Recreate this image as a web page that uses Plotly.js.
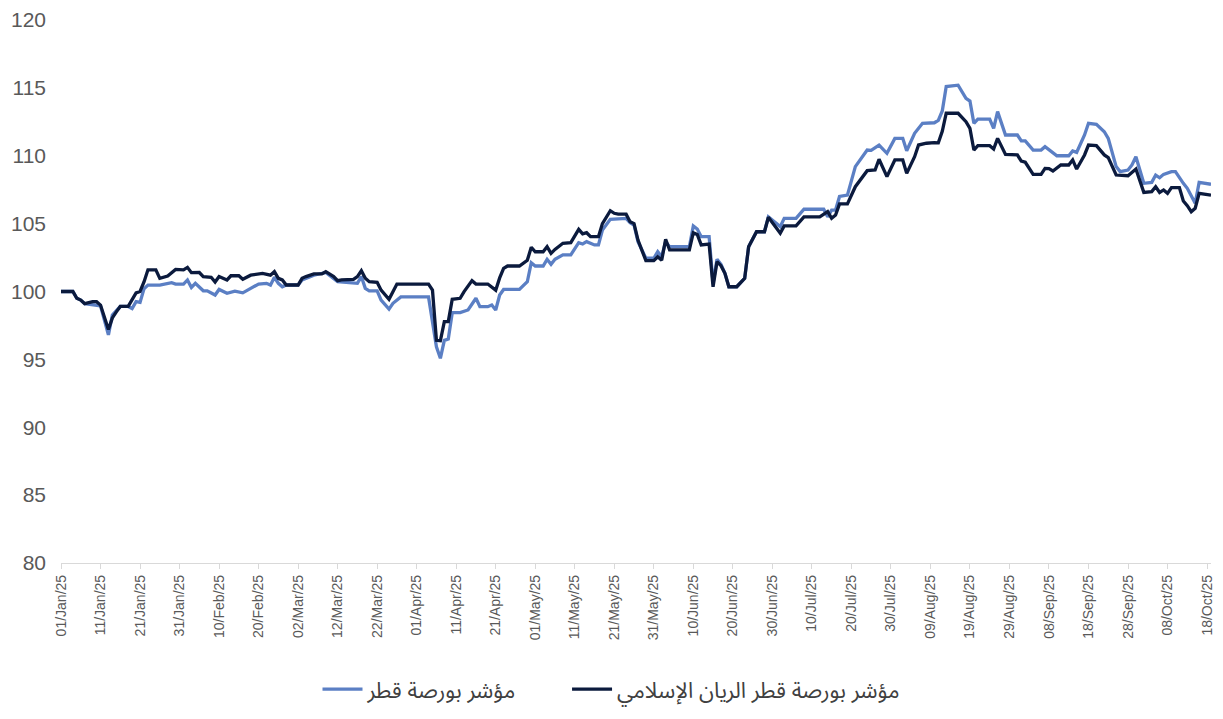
<!DOCTYPE html>
<html><head><meta charset="utf-8">
<script src="https://cdn.plot.ly/plotly-3.0.1.min.js"></script>
<style>html,body{margin:0;padding:0;background:#fff;}#chart{width:1223px;height:719px;}</style>
</head><body><div id="chart"></div>
<script>
var seriesNames = ["مؤشر بورصة قطر", "مؤشر بورصة قطر الريان الإسلامي"];

var qeDates = ["2025-01-01","2025-01-04","2025-01-05","2025-01-06","2025-01-07","2025-01-09","2025-01-11","2025-01-13","2025-01-14","2025-01-16","2025-01-18","2025-01-19","2025-01-20","2025-01-21","2025-01-22","2025-01-23","2025-01-26","2025-01-29","2025-01-30","2025-02-01","2025-02-02","2025-02-03","2025-02-04","2025-02-06","2025-02-07","2025-02-09","2025-02-10","2025-02-12","2025-02-14","2025-02-16","2025-02-18","2025-02-20","2025-02-22","2025-02-23","2025-02-24","2025-02-25","2025-02-26","2025-02-27","2025-03-02","2025-03-03","2025-03-06","2025-03-09","2025-03-12","2025-03-16","2025-03-17","2025-03-18","2025-03-19","2025-03-20","2025-03-22","2025-03-23","2025-03-25","2025-03-26","2025-03-28","2025-04-04","2025-04-06","2025-04-07","2025-04-08","2025-04-09","2025-04-10","2025-04-12","2025-04-14","2025-04-16","2025-04-17","2025-04-19","2025-04-20","2025-04-21","2025-04-22","2025-04-23","2025-04-27","2025-04-29","2025-04-30","2025-05-01","2025-05-03","2025-05-04","2025-05-05","2025-05-06","2025-05-08","2025-05-10","2025-05-12","2025-05-13","2025-05-14","2025-05-16","2025-05-17","2025-05-18","2025-05-20","2025-05-24","2025-05-25","2025-05-26","2025-05-27","2025-05-29","2025-05-31","2025-06-01","2025-06-02","2025-06-03","2025-06-04","2025-06-09","2025-06-10","2025-06-11","2025-06-12","2025-06-14","2025-06-15","2025-06-16","2025-06-17","2025-06-18","2025-06-19","2025-06-21","2025-06-23","2025-06-24","2025-06-26","2025-06-28","2025-06-29","2025-07-02","2025-07-03","2025-07-06","2025-07-08","2025-07-13","2025-07-14","2025-07-15","2025-07-16","2025-07-17","2025-07-19","2025-07-21","2025-07-24","2025-07-25","2025-07-27","2025-07-29","2025-07-31","2025-08-02","2025-08-03","2025-08-05","2025-08-07","2025-08-10","2025-08-11","2025-08-12","2025-08-13","2025-08-16","2025-08-18","2025-08-19","2025-08-20","2025-08-21","2025-08-24","2025-08-25","2025-08-26","2025-08-28","2025-08-31","2025-09-01","2025-09-02","2025-09-04","2025-09-06","2025-09-07","2025-09-10","2025-09-13","2025-09-14","2025-09-15","2025-09-17","2025-09-18","2025-09-20","2025-09-22","2025-09-23","2025-09-25","2025-09-26","2025-09-28","2025-09-29","2025-09-30","2025-10-01","2025-10-02","2025-10-04","2025-10-05","2025-10-06","2025-10-07","2025-10-09","2025-10-10","2025-10-12","2025-10-13","2025-10-15","2025-10-16","2025-10-19"];
var qeValues = [100.0,100.0,99.5,99.37,99.1,99.0,98.95,96.8,98.27,98.9,98.9,98.75,99.25,99.2,100.2,100.47,100.47,100.65,100.55,100.55,100.85,100.3,100.6,100.05,100.05,99.74,100.15,99.87,100.03,99.9,100.2,100.55,100.6,100.47,101.05,100.6,100.35,100.48,100.48,100.85,101.2,101.4,100.72,100.65,100.6,101.1,100.23,100.05,100.05,99.37,98.7,99.13,99.6,99.6,95.93,95.08,96.4,96.5,98.44,98.44,98.64,99.5,98.88,98.88,99.0,98.64,99.74,100.15,100.15,100.72,102.12,101.88,101.88,102.37,102.0,102.37,102.7,102.7,103.6,103.5,103.67,103.43,103.43,104.53,105.32,105.39,105.07,104.9,103.67,102.45,102.45,102.93,102.56,103.67,103.3,103.3,104.83,104.6,104.04,104.04,100.6,102.37,102.0,101.34,100.35,100.35,100.97,103.3,104.4,104.4,105.5,104.78,105.39,105.39,106.06,106.06,105.5,106.0,106.0,107.0,107.1,109.2,110.42,110.4,110.79,110.18,111.28,111.28,110.37,111.65,112.39,112.43,112.6,113.3,115.1,115.2,114.23,114.03,112.39,112.7,112.7,112.02,113.25,111.53,111.53,111.09,111.09,110.42,110.42,110.67,110.0,110.0,110.35,110.25,111.53,112.39,112.31,111.77,111.28,109.2,108.83,108.95,109.32,109.93,108.83,107.97,108.04,108.58,108.38,108.63,108.83,108.83,107.97,107.6,106.5,108.04,107.9];

var rayanDates = ["2025-01-01","2025-01-04","2025-01-05","2025-01-06","2025-01-07","2025-01-09","2025-01-10","2025-01-11","2025-01-13","2025-01-14","2025-01-15","2025-01-16","2025-01-18","2025-01-20","2025-01-21","2025-01-22","2025-01-23","2025-01-25","2025-01-26","2025-01-28","2025-01-30","2025-02-01","2025-02-02","2025-02-03","2025-02-05","2025-02-06","2025-02-08","2025-02-09","2025-02-10","2025-02-12","2025-02-13","2025-02-15","2025-02-16","2025-02-18","2025-02-21","2025-02-23","2025-02-24","2025-02-25","2025-02-26","2025-02-27","2025-03-02","2025-03-03","2025-03-04","2025-03-06","2025-03-08","2025-03-09","2025-03-11","2025-03-12","2025-03-13","2025-03-16","2025-03-17","2025-03-18","2025-03-19","2025-03-20","2025-03-22","2025-03-23","2025-03-25","2025-03-26","2025-03-27","2025-04-04","2025-04-05","2025-04-06","2025-04-07","2025-04-08","2025-04-09","2025-04-10","2025-04-12","2025-04-13","2025-04-15","2025-04-16","2025-04-19","2025-04-21","2025-04-22","2025-04-23","2025-04-24","2025-04-27","2025-04-29","2025-04-30","2025-05-01","2025-05-03","2025-05-04","2025-05-05","2025-05-06","2025-05-08","2025-05-10","2025-05-12","2025-05-13","2025-05-14","2025-05-15","2025-05-17","2025-05-18","2025-05-20","2025-05-21","2025-05-22","2025-05-24","2025-05-25","2025-05-26","2025-05-27","2025-05-29","2025-05-31","2025-06-01","2025-06-02","2025-06-03","2025-06-04","2025-06-09","2025-06-10","2025-06-11","2025-06-12","2025-06-14","2025-06-15","2025-06-16","2025-06-17","2025-06-18","2025-06-19","2025-06-21","2025-06-23","2025-06-24","2025-06-26","2025-06-28","2025-06-29","2025-07-02","2025-07-03","2025-07-06","2025-07-08","2025-07-12","2025-07-14","2025-07-15","2025-07-16","2025-07-17","2025-07-19","2025-07-21","2025-07-24","2025-07-26","2025-07-27","2025-07-29","2025-07-31","2025-08-02","2025-08-03","2025-08-05","2025-08-06","2025-08-08","2025-08-10","2025-08-11","2025-08-12","2025-08-13","2025-08-16","2025-08-18","2025-08-19","2025-08-20","2025-08-21","2025-08-24","2025-08-25","2025-08-26","2025-08-28","2025-08-31","2025-09-01","2025-09-02","2025-09-04","2025-09-06","2025-09-07","2025-09-08","2025-09-09","2025-09-11","2025-09-13","2025-09-14","2025-09-15","2025-09-17","2025-09-18","2025-09-20","2025-09-22","2025-09-23","2025-09-25","2025-09-28","2025-09-30","2025-10-02","2025-10-04","2025-10-05","2025-10-06","2025-10-07","2025-10-08","2025-10-09","2025-10-11","2025-10-12","2025-10-13","2025-10-14","2025-10-15","2025-10-16","2025-10-19"];
var rayanValues = [100.0,100.0,99.5,99.37,99.1,99.25,99.25,99.0,97.2,98.05,98.5,98.9,98.9,99.9,100.0,100.7,101.6,101.6,100.97,101.14,101.63,101.6,101.78,101.39,101.4,101.1,101.05,100.7,101.1,100.85,101.16,101.16,100.9,101.2,101.34,101.2,101.46,100.97,100.85,100.48,100.48,100.97,101.1,101.3,101.3,101.46,101.1,100.8,100.85,100.9,101.1,101.53,100.97,100.72,100.68,100.1,99.42,99.98,100.55,100.55,100.1,96.4,96.37,97.78,97.78,99.43,99.5,99.99,100.8,100.55,100.55,100.1,101.0,101.7,101.88,101.88,102.3,103.26,102.93,102.93,103.3,102.81,103.1,103.55,103.6,104.58,104.24,104.33,104.04,104.04,105.0,105.95,105.76,105.7,105.7,105.14,105.0,103.79,102.27,102.27,102.56,102.3,103.85,103.06,103.06,104.33,104.2,103.43,103.5,100.35,102.2,101.9,101.34,100.35,100.35,100.97,103.3,104.4,104.4,105.47,104.29,104.83,104.83,105.5,105.5,105.88,105.39,105.63,106.45,106.45,107.72,108.9,108.95,109.74,108.46,109.69,109.69,108.7,109.93,110.79,110.92,110.96,110.95,111.8,113.13,113.13,112.51,112.02,110.42,110.74,110.74,110.5,111.28,110.1,110.06,109.61,109.52,108.63,108.63,109.07,109.05,108.88,109.32,109.32,109.69,109.02,110.06,110.79,110.74,110.06,109.86,108.58,108.53,109.02,107.3,107.36,107.72,107.3,107.48,107.23,107.65,107.65,106.67,106.32,105.88,106.13,107.23,107.1];

var tickDates = ["2025-01-01","2025-01-11","2025-01-21","2025-01-31","2025-02-10","2025-02-20","2025-03-02","2025-03-12","2025-03-22","2025-04-01","2025-04-11","2025-04-21","2025-05-01","2025-05-11","2025-05-21","2025-05-31","2025-06-10","2025-06-20","2025-06-30","2025-07-10","2025-07-20","2025-07-30","2025-08-09","2025-08-19","2025-08-29","2025-09-08","2025-09-18","2025-09-28","2025-10-08","2025-10-18"];
var tickLabels = ["01/Jan/25","11/Jan/25","21/Jan/25","31/Jan/25","10/Feb/25","20/Feb/25","02/Mar/25","12/Mar/25","22/Mar/25","01/Apr/25","11/Apr/25","21/Apr/25","01/May/25","11/May/25","21/May/25","31/May/25","10/Jun/25","20/Jun/25","30/Jun/25","10/Jul/25","20/Jul/25","30/Jul/25","09/Aug/25","19/Aug/25","29/Aug/25","08/Sep/25","18/Sep/25","28/Sep/25","08/Oct/25","18/Oct/25"];

// extra no-break spaces after the first legend name only widen the gap between legend entries
var legendGap = "\u00A0\u00A0\u00A0\u00A0\u00A0\u00A0\u00A0\u00A0";

var traces = [
  {x: qeDates, y: qeValues, name: seriesNames[0] + legendGap, type: 'scatter', mode: 'lines',
   line: {color: '#5b7fc4', width: 3.3, shape: 'linear'}},
  {x: rayanDates, y: rayanValues, name: seriesNames[1], type: 'scatter', mode: 'lines',
   line: {color: '#0b1a3d', width: 3.3, shape: 'linear'}}
];

var layout = {
  width: 1223, height: 719,
  paper_bgcolor: '#ffffff', plot_bgcolor: '#ffffff',
  margin: {l: 61, r: 12, t: 20, b: 156, pad: 0, autoexpand: false},
  font: {family: 'Liberation Sans, Arial, sans-serif', color: '#595959'},
  showlegend: true,
  xaxis: {
    type: 'date',
    range: ['2025-01-01', '2025-10-19'],
    tickmode: 'array', tickvals: tickDates, ticktext: tickLabels,
    tickangle: -90,
    tickfont: {size: 14, color: '#595959'},
    ticks: 'outside', ticklen: 5, tickcolor: '#d9d9d9', tickwidth: 1,
    showline: true, linecolor: '#d9d9d9', linewidth: 1.3,
    showgrid: false, zeroline: false, fixedrange: true
  },
  yaxis: {
    range: [80, 120], dtick: 5, tick0: 80,
    tickfont: {size: 21, color: '#595959'},
    showgrid: false, zeroline: false, showline: false,
    ticks: '', ticklabelstandoff: 14, fixedrange: true
  },
  legend: {
    orientation: 'h', xref: 'container', yref: 'container',
    x: 0.5, xanchor: 'center', y: 0.012, yanchor: 'bottom',
    font: {family: 'Noto Sans Arabic, DejaVu Sans, sans-serif', size: 22, color: '#404040'},
    itemwidth: 40, tracegroupgap: 0
  }
};

Plotly.newPlot('chart', traces, layout, {displayModeBar: false, staticPlot: true});
</script>
</body></html>
